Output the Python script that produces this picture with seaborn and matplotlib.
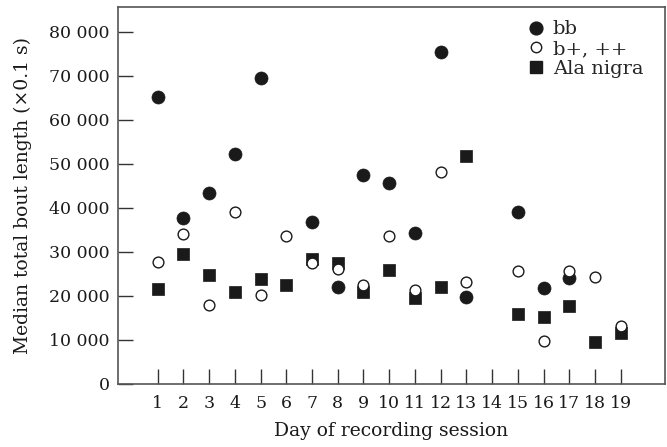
import numpy as np
import pandas as pd
import seaborn as sns
import matplotlib
matplotlib.use("Agg")
import matplotlib.pyplot as plt
from matplotlib.ticker import FuncFormatter
from matplotlib.lines import Line2D

days = list(range(1, 20))
nan = np.nan
bb = [65300, 37700, 43300, 52200, 69500, nan, 36900, 22100, 47500, 45600,
      34400, 75300, 19800, nan, 39100, 21700, 24000, nan, nan]
bplus = [27700, 34100, 17900, 39100, 20200, 33600, 27400, 26200, 22400, 33600,
         21300, 48100, 23200, nan, 25700, 9800, 25700, 24400, 13100]
ala = [21500, 29500, 24800, 21000, 23800, 22500, 28300, 27400, 20900, 26000,
       19500, 22000, 51800, nan, 15900, 15100, 17600, 9500, 11500]
series_names = ["bb", "b+, ++", "Ala nigra"]

sns.set_theme(style="white")
plt.rcParams['font.family'] = ['DejaVu Serif']

fig = plt.figure(figsize=(6.67, 4.47), dpi=100)
ax = fig.add_axes([0.177, 0.141, 0.82, 0.844])

df_ala = pd.DataFrame({"day": days, "val": ala}).dropna()
df_bb = pd.DataFrame({"day": days, "val": bb}).dropna()
df_bp = pd.DataFrame({"day": days, "val": bplus}).dropna()

sns.scatterplot(data=df_ala, x="day", y="val", marker="s", s=68, color="#1a1a1a",
                edgecolor="#1a1a1a", linewidth=0.5, ax=ax, zorder=3)
sns.scatterplot(data=df_bb, x="day", y="val", marker="o", s=88, color="#1a1a1a",
                edgecolor="#1a1a1a", linewidth=0.5, ax=ax, zorder=4)
sns.scatterplot(data=df_bp, x="day", y="val", marker="o", s=60, facecolor="white",
                edgecolor="#1a1a1a", linewidth=1.0, ax=ax, zorder=5)

handles = [
    Line2D([], [], marker="o", linestyle="none", markersize=9.2, markerfacecolor="#1a1a1a", markeredgecolor="#1a1a1a"),
    Line2D([], [], marker="o", linestyle="none", markersize=7.5, markerfacecolor="white", markeredgecolor="#1a1a1a", markeredgewidth=1.0),
    Line2D([], [], marker="s", linestyle="none", markersize=8, markerfacecolor="#1a1a1a", markeredgecolor="#1a1a1a"),
]
ax.legend(handles, series_names, loc="upper right", frameon=False, fontsize=14,
          handletextpad=0.25, borderaxespad=0.3, labelspacing=0.1,
          bbox_to_anchor=(0.985, 1.0), handlelength=1.2)

ax.set_xlim(-0.54, 20.72)
ax.set_ylim(0, 85700)
ax.set_xticks(days)
ax.set_xticklabels([str(d) for d in days])
ax.set_yticks(range(0, 80001, 10000))
ax.yaxis.set_major_formatter(FuncFormatter(lambda v, p: f"{int(v):,}".replace(",", " ")))
ax.tick_params(direction="in", length=11, width=1.0, color="#333333", labelsize=12.5,
               labelcolor="#1a1a1a", pad=6, bottom=True, left=True)
ax.tick_params(axis="x", pad=8)
for sp in ax.spines.values():
    sp.set_color("#555555")
    sp.set_linewidth(1.2)

ax.set_xlabel("Day of recording session", fontsize=13.5, color="#1a1a1a", labelpad=7)
ax.set_ylabel("Median total bout length (×0.1 s)", fontsize=13.5, color="#1a1a1a", labelpad=12)

fig.savefig("out.png", dpi=100)
